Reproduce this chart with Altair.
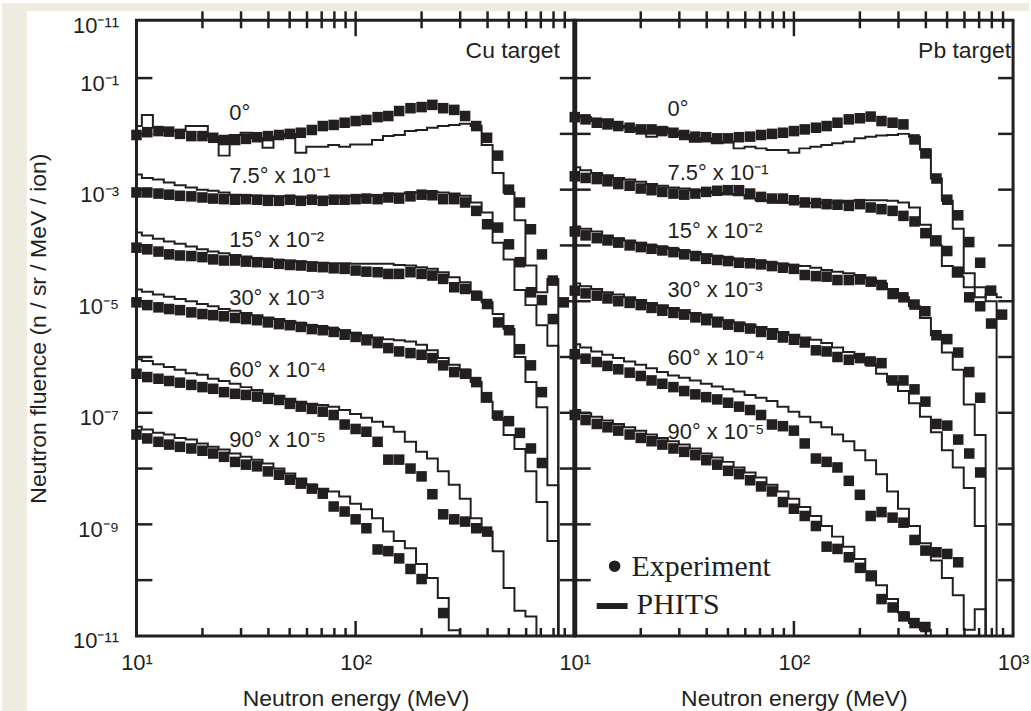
import altair as alt
import pandas as pd

INK = "#231f20"
BEIGE = "#eeece1"
SANS = "Liberation Sans"
SERIF = "Liberation Serif"

PANEL_W = 440
PANEL_H = 618
Y_TOP = 1.086

# Energy bins (MeV) shared by all spectra
E_GRID = [10.0, 11.2, 12.6, 14.1, 15.8, 17.8, 20.0, 22.4, 25.1, 28.2,
          31.6, 35.5, 39.8, 44.7, 50.1, 56.2, 63.1, 70.8, 79.4, 89.1,
          100.0, 112.0, 126.0, 141.0, 158.0, 178.0, 200.0, 224.0, 251.0, 282.0,
          316.0, 355.0, 398.0, 447.0, 501.0, 562.0, 631.0, 708.0, 794.0, 891.0]

# ---- Cu target: log10(fluence) per bin ----
CU_EXP_0 = [-2.02, -1.97, -1.95, -1.96, -2.00, -2.04, -2.04, -2.07, -2.11, -2.11,
            -2.09, -2.06, -2.04, -2.02, -2.00, -1.98, -1.93, -1.86, -1.84, -1.80,
            -1.77, -1.75, -1.70, -1.68, -1.59, -1.54, -1.52, -1.48, -1.54, -1.57,
            -1.68, -1.86, -2.07, -2.39, -3.00, -3.23, -3.71, -4.16, -4.63, -5.02]
CU_SIM_0 = [-1.86, -1.66, -1.89, -1.95, -1.95, -1.86, -1.86, -2.05, -2.39, -2.02,
            -1.98, -2.08, -2.25, -2.05, -2.00, -2.34, -2.23, -2.23, -2.20, -2.23,
            -2.19, -2.19, -2.11, -2.04, -2.02, -1.95, -1.93, -1.89, -1.86, -1.84,
            -1.82, -1.86, -2.20, -2.70, -3.05, -3.55, -4.36, -4.84, -4.60, -12.0]
CU_EXP_7 = [-3.05, -3.05, -3.07, -3.09, -3.11, -3.12, -3.14, -3.16, -3.17, -3.18,
            -3.17, -3.18, -3.20, -3.20, -3.18, -3.20, -3.18, -3.20, -3.18, -3.18,
            -3.17, -3.16, -3.17, -3.14, -3.16, -3.12, -3.09, -3.10, -3.17, -3.17,
            -3.23, -3.38, -3.62, -3.68, -3.98, -4.30, -4.84, -4.98, -5.32]
CU_SIM_7 = [-2.73, -2.79, -2.82, -2.87, -2.92, -2.96, -3.00, -3.02, -3.05, -3.09,
            -3.10, -3.11, -3.11, -3.12, -3.12, -3.14, -3.14, -3.14, -3.14, -3.12,
            -3.12, -3.11, -3.10, -3.09, -3.07, -3.05, -3.05, -3.04, -3.05, -3.07,
            -3.11, -3.23, -3.41, -3.95, -4.25, -4.80, -5.07, -5.43, -5.80, -12.0]
CU_EXP_15 = [-4.04, -4.07, -4.11, -4.16, -4.18, -4.19, -4.21, -4.25, -4.27, -4.27,
             -4.29, -4.30, -4.31, -4.33, -4.35, -4.36, -4.38, -4.39, -4.41, -4.42,
             -4.45, -4.47, -4.48, -4.51, -4.51, -4.48, -4.51, -4.54, -4.60, -4.75,
             -4.78, -4.90, -5.05, -5.38, -5.52, -5.86, -6.15, -6.63]
CU_SIM_15 = [-3.77, -3.82, -3.88, -3.93, -3.97, -4.02, -4.07, -4.11, -4.14, -4.17,
             -4.20, -4.23, -4.25, -4.26, -4.27, -4.29, -4.30, -4.31, -4.32, -4.32,
             -4.33, -4.33, -4.33, -4.33, -4.35, -4.36, -4.39, -4.42, -4.48, -4.57,
             -4.66, -4.84, -5.02, -5.23, -5.50, -6.00, -6.45, -6.90, -8.30, -12.0]
CU_EXP_30 = [-5.02, -5.07, -5.11, -5.14, -5.16, -5.20, -5.23, -5.25, -5.27, -5.30,
             -5.32, -5.34, -5.38, -5.41, -5.43, -5.46, -5.50, -5.52, -5.55, -5.60,
             -5.64, -5.70, -5.75, -5.84, -5.90, -5.93, -5.96, -6.02, -6.15, -6.27,
             -6.30, -6.45, -6.72, -7.05, -7.15, -7.36, -7.64, -7.90]
CU_SIM_30 = [-4.79, -4.83, -4.88, -4.92, -4.96, -5.00, -5.05, -5.09, -5.14, -5.17,
             -5.21, -5.25, -5.29, -5.32, -5.36, -5.39, -5.43, -5.46, -5.50, -5.52,
             -5.57, -5.61, -5.65, -5.68, -5.70, -5.72, -5.78, -5.88, -6.02, -6.14,
             -6.23, -6.45, -6.80, -7.10, -7.40, -7.65, -8.05, -8.60, -9.30, -12.0]
CU_EXP_60 = [-6.30, -6.36, -6.39, -6.43, -6.46, -6.50, -6.54, -6.57, -6.63, -6.66,
             -6.68, -6.71, -6.75, -6.77, -6.84, -6.89, -6.93, -6.98, -7.04, -7.21,
             -7.29, -7.34, -7.52, -7.84, -7.84, -8.00, -8.14, -8.46, -8.82, -8.91,
             -8.95, -9.07, -9.13]
CU_SIM_60 = [-6.04, -6.07, -6.13, -6.18, -6.23, -6.29, -6.32, -6.39, -6.43, -6.48,
             -6.54, -6.59, -6.66, -6.70, -6.75, -6.80, -6.84, -6.86, -6.89, -6.95,
             -7.02, -7.09, -7.16, -7.25, -7.34, -7.52, -7.70, -7.82, -8.05, -8.29,
             -8.54, -8.89, -9.13, -9.48, -10.14, -10.55, -10.65, -12.0]
CU_EXP_90 = [-7.39, -7.46, -7.52, -7.57, -7.61, -7.64, -7.68, -7.73, -7.79, -7.88,
             -7.93, -7.96, -8.05, -8.11, -8.20, -8.27, -8.36, -8.45, -8.68, -8.77,
             -8.91, -9.07, -9.45, -9.48, -9.61, -9.80, -9.98, None, -10.59]
CU_SIM_90 = [-7.25, -7.30, -7.36, -7.39, -7.45, -7.48, -7.55, -7.61, -7.66, -7.73,
             -7.79, -7.84, -7.91, -8.00, -8.09, -8.18, -8.29, -8.36, -8.41, -8.50,
             -8.63, -8.73, -8.89, -9.13, -9.30, -9.43, -9.71, -9.96, -10.32, -10.90,
             -12.0]

# ---- Pb target: log10(fluence) per bin ----
PB_EXP_0 = [-1.70, -1.74, -1.80, -1.83, -1.86, -1.89, -1.92, -1.92, -1.95, -1.98,
            -2.02, -2.05, -2.06, -2.08, -2.08, -2.06, -2.05, -2.02, -2.00, -1.98,
            -1.95, -1.92, -1.89, -1.86, -1.80, -1.74, -1.72, -1.69, -1.77, -1.80,
            -1.83, -2.10, -2.35, -2.80, -3.18, -3.46, -3.94, -4.31, -4.81, -5.24]
PB_SIM_0 = [-1.67, -1.70, -1.77, -1.74, -1.86, -1.89, -1.95, -2.05, -1.89, -1.98,
            -2.02, -2.14, -2.08, -2.17, -2.14, -2.26, -2.23, -2.26, -2.29, -2.29,
            -2.34, -2.26, -2.23, -2.20, -2.17, -2.14, -2.08, -2.05, -2.03, -2.02,
            -2.00, -2.05, -2.28, -2.80, -3.20, -3.70, -4.50, -4.75, -5.00, -12.0]
PB_EXP_7 = [-2.76, -2.79, -2.81, -2.85, -2.90, -2.93, -2.98, -3.01, -3.04, -3.07,
            -3.09, -3.07, -3.04, -3.02, -3.01, -3.01, -3.07, -3.13, -3.16, -3.16,
            -3.19, -3.23, -3.24, -3.26, -3.27, -3.29, -3.26, -3.32, -3.35, -3.38,
            -3.47, -3.57, -3.78, -3.91, -4.10, -4.47, -4.93, -5.09, -5.40]
PB_SIM_7 = [-2.60, -2.65, -2.70, -2.74, -2.79, -2.82, -2.86, -2.90, -2.93, -2.96,
            -2.98, -3.01, -3.03, -3.06, -3.08, -3.10, -3.16, -3.19, -3.20, -3.23,
            -3.23, -3.24, -3.24, -3.23, -3.23, -3.20, -3.19, -3.19, -3.19, -3.20,
            -3.23, -3.32, -3.63, -4.00, -4.37, -4.56, -4.75, -4.93, -4.87, -4.93]
PB_EXP_15 = [-3.75, -3.82, -3.87, -3.91, -3.95, -4.00, -4.03, -4.06, -4.09, -4.12,
             -4.16, -4.19, -4.24, -4.26, -4.28, -4.31, -4.32, -4.34, -4.37, -4.40,
             -4.42, -4.53, -4.55, -4.56, -4.62, -4.62, -4.61, -4.65, -4.71, -4.87,
             -4.93, -5.06, -5.18, -5.61, -5.68, -5.92, -6.27, -6.73]
PB_SIM_15 = [-3.66, -3.70, -3.75, -3.82, -3.87, -3.91, -3.95, -4.00, -4.03, -4.06,
             -4.09, -4.12, -4.16, -4.19, -4.22, -4.25, -4.27, -4.29, -4.31, -4.33,
             -4.36, -4.37, -4.40, -4.44, -4.47, -4.50, -4.53, -4.59, -4.68, -4.78,
             -4.93, -5.09, -5.30, -5.61, -5.92, -6.23, -6.85, -7.40, -12.0]
PB_EXP_30 = [-4.81, -4.86, -4.90, -4.95, -5.00, -5.03, -5.07, -5.12, -5.17, -5.21,
             -5.24, -5.29, -5.34, -5.38, -5.42, -5.46, -5.49, -5.55, -5.60, -5.65,
             -5.69, -5.74, -5.88, -5.90, -6.00, -6.05, -6.02, -6.08, -6.11, -6.42,
             -6.42, -6.58, -6.80, -7.20, -7.23, -7.48, -7.73, -8.07]
PB_SIM_30 = [-4.68, -4.73, -4.78, -4.84, -4.88, -4.93, -4.98, -5.03, -5.07, -5.12,
             -5.16, -5.21, -5.24, -5.29, -5.34, -5.38, -5.42, -5.46, -5.50, -5.55,
             -5.60, -5.65, -5.69, -5.75, -5.83, -5.91, -6.02, -6.14, -6.30, -6.45,
             -6.61, -6.83, -7.07, -7.35, -7.67, -7.98, -8.35, -9.03, -12.0]
PB_EXP_60 = [-5.95, -6.03, -6.09, -6.16, -6.22, -6.28, -6.34, -6.42, -6.48, -6.54,
             -6.61, -6.67, -6.72, -6.76, -6.82, -6.89, -6.95, -7.04, -7.21, -7.24,
             -7.32, -7.55, -7.82, -7.88, -7.98, -8.22, -8.47, -8.85, -8.78, -8.88,
             -8.97, -9.28, -9.47, -9.50, -9.53, -9.68]
PB_SIM_60 = [-5.77, -5.83, -5.90, -5.96, -6.02, -6.08, -6.14, -6.20, -6.27, -6.33,
             -6.37, -6.42, -6.48, -6.53, -6.58, -6.62, -6.68, -6.73, -6.79, -6.89,
             -6.98, -7.07, -7.17, -7.26, -7.39, -7.51, -7.67, -7.85, -8.10, -8.41,
             -8.72, -9.03, -9.34, -9.65, -9.96, -10.27, -10.89, -10.52, -12.0]
PB_EXP_90 = [-7.04, -7.13, -7.20, -7.26, -7.32, -7.39, -7.45, -7.51, -7.57, -7.64,
             -7.70, -7.76, -7.85, -7.93, -8.04, -8.10, -8.21, -8.32, -8.41, -8.60,
             -8.72, -8.85, -9.03, -9.40, -9.44, -9.59, -9.78, -9.93, -10.34, -10.49,
             -10.65, -10.77, -10.84]
PB_SIM_90 = [-6.95, -7.01, -7.07, -7.14, -7.20, -7.26, -7.32, -7.39, -7.45, -7.51,
             -7.57, -7.64, -7.73, -7.80, -7.88, -7.98, -8.07, -8.16, -8.29, -8.41,
             -8.54, -8.69, -8.85, -9.03, -9.22, -9.40, -9.62, -9.84, -10.09, -10.34,
             -10.58, -10.77, -10.89, -12.0]

# ---- curve labels ----
ANGLES = ["0", "7.5", "15", "30", "60", "90"]
CURVE_LABELS = ["0°", "7.5° x 10⁻¹", "15° x 10⁻²", "30° x 10⁻³", "60° x 10⁻⁴", "90° x 10⁻⁵"]
LABEL_E = 26.5
CU_LABEL_LOGF = [-1.625, -2.75, -3.91, -4.95, -6.23, -7.48]
PB_LABEL_LOGF = [-1.55, -2.70, -3.75, -4.80, -6.02, -7.34]

# ---- axis ticks and labels ----
Y_TICKS = [1e-1, 1e-2, 1e-3, 1e-4, 1e-5, 1e-6, 1e-7, 1e-8, 1e-9, 1e-10]
X_MINOR = [20, 30, 40, 50, 60, 70, 80, 90, 200, 300, 400, 500, 600, 700, 800, 900]
X_MAJOR = [100]
Y_LABEL_VALUES = [1e-11, 1e-9, 1e-7, 1e-5, 1e-3, 1e-1, Y_TOP]
Y_LABEL_TEXTS = ["10⁻¹¹", "10⁻⁹", "10⁻⁷", "10⁻⁵", "10⁻³", "10⁻¹", "10⁻¹¹"]
X_LABEL_VALUES = [10, 100, 1000]
X_LABEL_TEXTS = ["10¹", "10²", "10³"]


def label_expr(values, texts):
    expr = "''"
    for v, t in zip(reversed(values), reversed(texts)):
        expr = f"abs(log(datum.value) - log({v!r})) < 0.01 ? '{t}' : ({expr})"
    return expr


Y_EXPR = label_expr(Y_LABEL_VALUES, Y_LABEL_TEXTS)
X_EXPR = label_expr(X_LABEL_VALUES, X_LABEL_TEXTS)


def spectra_frame(exp_lists, sim_lists):
    rows = []
    for angle, ex, sm in zip(ANGLES, exp_lists, sim_lists):
        for e, v in zip(E_GRID, ex):
            if v is not None:
                rows.append({"angle": angle, "kind": "Experiment", "E": e, "F": 10.0 ** v})
        for e, v in zip(E_GRID, sm):
            if v is not None:
                rows.append({"angle": angle, "kind": "PHITS", "E": e, "F": 10.0 ** v})
    return pd.DataFrame(rows)


cu_df = spectra_frame([CU_EXP_0, CU_EXP_7, CU_EXP_15, CU_EXP_30, CU_EXP_60, CU_EXP_90],
                      [CU_SIM_0, CU_SIM_7, CU_SIM_15, CU_SIM_30, CU_SIM_60, CU_SIM_90])
pb_df = spectra_frame([PB_EXP_0, PB_EXP_7, PB_EXP_15, PB_EXP_30, PB_EXP_60, PB_EXP_90],
                      [PB_SIM_0, PB_SIM_7, PB_SIM_15, PB_SIM_30, PB_SIM_60, PB_SIM_90])

ytick_df = pd.DataFrame({"F": Y_TICKS})
xminor_df = pd.DataFrame({"E": X_MINOR})
xmajor_df = pd.DataFrame({"E": X_MAJOR})
one = pd.DataFrame({"k": [0]})


def make_panel(df, label_logs, target, x_vals, left):
    x_axis = alt.Axis(values=x_vals, labelExpr=X_EXPR, ticks=False, domain=False, grid=False,
                      title="Neutron energy (MeV)", labelPadding=17, titlePadding=14,
                      labelFlush=False, labelOverlap=False)
    X = alt.X("E:Q", scale=alt.Scale(type="log", domain=[10, 1000], nice=False), axis=x_axis)
    if left:
        y_axis = alt.Axis(values=Y_LABEL_VALUES, labelExpr=Y_EXPR, ticks=False, domain=False,
                          grid=False, title="Neutron fluence (n / sr / MeV / ion)",
                          labelPadding=18, titlePadding=22, labelOverlap=False,
                          labelFlush=False, labelOffset=5)
        Y = alt.Y("F:Q", scale=alt.Scale(type="log", domain=[1e-11, Y_TOP], nice=False), axis=y_axis)
    else:
        Y = alt.Y("F:Q", scale=alt.Scale(type="log", domain=[1e-11, Y_TOP], nice=False), axis=None)

    layers = []
    # beige page strips outside the white figure area (also fix the page bounds)
    if left:
        layers.append(alt.Chart(one).mark_rect(color=BEIGE).encode(
            x=alt.value(-135), x2=alt.value(-110), y=alt.value(-17), y2=alt.value(PANEL_H + 76)))
        layers.append(alt.Chart(one).mark_rect(color=BEIGE).encode(
            x=alt.value(-135), x2=alt.value(PANEL_W), y=alt.value(-17), y2=alt.value(-9)))
    else:
        layers.append(alt.Chart(one).mark_rect(color=BEIGE).encode(
            x=alt.value(0), x2=alt.value(PANEL_W + 16), y=alt.value(-17), y2=alt.value(-9)))

    # inward ticks
    tick = dict(color=INK, strokeWidth=2.5)
    layers.append(alt.Chart(ytick_df).mark_rule(**tick).encode(y=Y, x=alt.value(0), x2=alt.value(16)))
    layers.append(alt.Chart(ytick_df).mark_rule(**tick).encode(y=Y, x=alt.value(PANEL_W - 15), x2=alt.value(PANEL_W)))
    layers.append(alt.Chart(xminor_df).mark_rule(**tick).encode(x=X, y=alt.value(PANEL_H - 8), y2=alt.value(PANEL_H)))
    layers.append(alt.Chart(xmajor_df).mark_rule(**tick).encode(x=X, y=alt.value(PANEL_H - 15), y2=alt.value(PANEL_H)))
    layers.append(alt.Chart(xminor_df).mark_rule(**tick).encode(x=X, y=alt.value(-9), y2=alt.value(8)))
    layers.append(alt.Chart(xmajor_df).mark_rule(**tick).encode(x=X, y=alt.value(-9), y2=alt.value(16)))
    if left:
        # heavier divider between the two panels
        layers.append(alt.Chart(one).mark_rule(color=INK, strokeWidth=5).encode(
            x=alt.value(PANEL_W), y=alt.value(0), y2=alt.value(PANEL_H)))

    base = alt.Chart(df)
    layers.append(base.transform_filter(alt.datum.kind == "PHITS").mark_line(
        interpolate="step", clip=True, color=INK, strokeWidth=2).encode(x=X, y=Y, detail="angle:N"))
    layers.append(base.transform_filter(alt.datum.kind == "Experiment").mark_square(
        size=112, color=INK, opacity=1).encode(x=X, y=Y))

    lab_df = pd.DataFrame({"E": [LABEL_E] * len(CURVE_LABELS),
                           "F": [10.0 ** v for v in label_logs],
                           "label": CURVE_LABELS})
    layers.append(alt.Chart(lab_df).mark_text(align="left", baseline="middle", font=SANS,
                                              fontSize=22, color=INK).encode(x=X, y=Y, text="label:N"))

    layers.append(alt.Chart(one).mark_text(align="right", baseline="alphabetic", font=SANS,
                                           fontSize=23, color=INK, text=target).encode(
        x=alt.value(PANEL_W - 15 if left else PANEL_W - 2), y=alt.value(38)))

    if not left:
        layers.append(alt.Chart(one).mark_circle(size=135, color=INK, opacity=1).encode(
            x=alt.value(40), y=alt.value(548)))
        layers.append(alt.Chart(one).mark_text(align="left", baseline="alphabetic", font=SERIF,
                                               fontSize=30, color=INK, text="Experiment").encode(
            x=alt.value(57), y=alt.value(558)))
        layers.append(alt.Chart(one).mark_rule(color=INK, strokeWidth=6).encode(
            x=alt.value(22), x2=alt.value(53), y=alt.value(588)))
        layers.append(alt.Chart(one).mark_text(align="left", baseline="alphabetic", font=SERIF,
                                               fontSize=30, color=INK, text="PHITS").encode(
            x=alt.value(62), y=alt.value(596)))

    return alt.layer(*layers).properties(width=PANEL_W, height=PANEL_H)


left_panel = make_panel(cu_df, CU_LABEL_LOGF, "Cu target", [10, 100], True)
right_panel = make_panel(pb_df, PB_LABEL_LOGF, "Pb target", [10, 100, 1000], False)

chart = alt.hconcat(left_panel, right_panel, spacing=0, bounds="flush").properties(
    padding=0,
    background="white",
).configure_view(
    stroke=INK, strokeWidth=3
).configure_axis(
    labelFont=SANS, titleFont=SANS, labelFontSize=22, titleFontSize=23,
    labelColor=INK, titleColor=INK, titleFontWeight="normal"
)

chart.save("out.html", embed_options={"renderer": "svg", "actions": False})
